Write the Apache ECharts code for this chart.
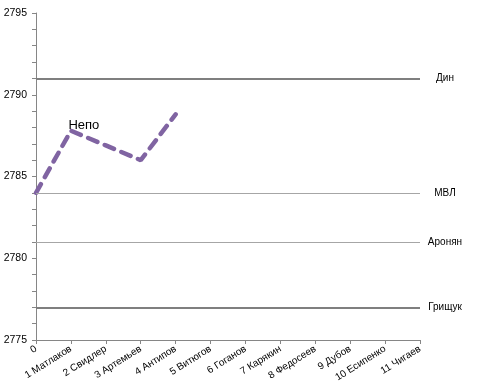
<!DOCTYPE html>
<html><head><meta charset="utf-8">
<script src="https://cdn.jsdelivr.net/npm/echarts@6/dist/echarts.min.js"></script>
<style>html,body{margin:0;padding:0;background:#fff}#c{width:480px;height:391px}</style>
</head><body><div id="c"></div>
<script>
const categories = ["0","1 Матлаков","2 Свидлер","3 Артемьев","4 Антипов","5 Витюгов","6 Гоганов","7 Карякин","8 Федосеев","9 Дубов","10 Есипенко","11 Чигаев"];
const nepoValues = [2784, 2787.8, 2786.9, 2786, 2788.8];
const nepoName = "Непо";
const refNames = ["Дин", "МВЛ", "Аронян", "Грищук"];
const refValues = [2791, 2784, 2781, 2777];
const refThick = [true, false, false, true];
const yTicks = {min: 2775, max: 2795, step: 5};

const FONT = '"Liberation Sans", Arial, sans-serif';
const chart = echarts.init(document.getElementById('c'), null, {renderer: 'canvas'});
const markData = refNames.map((n, i) => ({
  yAxis: refValues[i],
  name: n,
  lineStyle: {color: refThick[i] ? '#7f7f7f' : '#a6a6a6', width: refThick[i] ? 2 : 1, type: 'solid'},
  label: {show: true, position: 'end', formatter: n, color: '#000', fontSize: 10, fontFamily: FONT, distance: 25, align: 'center'}
}));
chart.setOption({
  animation: false,
  grid: {left: 36, right: 60, top: 13, bottom: 51, containLabel: false},
  xAxis: {
    type: 'category', data: categories, boundaryGap: false,
    axisLine: {lineStyle: {color: '#868686', width: 1}},
    axisTick: {show: true, length: 4, lineStyle: {color: '#868686'}},
    axisLabel: {rotate: 32, fontSize: 10, color: '#000', fontFamily: FONT, margin: 8, interval: 0},
    splitLine: {show: false}
  },
  yAxis: {
    type: 'value', min: yTicks.min, max: yTicks.max, interval: yTicks.step,
    axisLine: {show: true, lineStyle: {color: '#868686', width: 1}},
    axisTick: {show: true, length: 4, lineStyle: {color: '#868686'}},
    minorTick: {show: true, splitNumber: 5, length: 4, lineStyle: {color: '#868686'}},
    axisLabel: {fontSize: 10.5, color: '#000', fontFamily: FONT, margin: 9, formatter: v => String(v)},
    splitLine: {show: false}
  },
  series: [{
    type: 'line', name: nepoName,
    data: nepoValues.map((v, i) => i === 1 ? {value: v, label: {show: true}} : v),
    showSymbol: true, symbol: 'circle', symbolSize: 1,
    itemStyle: {color: 'rgba(0,0,0,0)', borderWidth: 0},
    lineStyle: {color: '#8064A2', width: 4.5, type: [10, 8], cap: 'round'},
    label: {show: false, position: 'top', formatter: nepoName, fontSize: 13, color: '#000', fontFamily: FONT, distance: 0, offset: [13, 2]},
    markLine: {silent: true, symbol: ['none', 'none'], data: markData, animation: false},
    z: 3
  }]
});
</script></body></html>
